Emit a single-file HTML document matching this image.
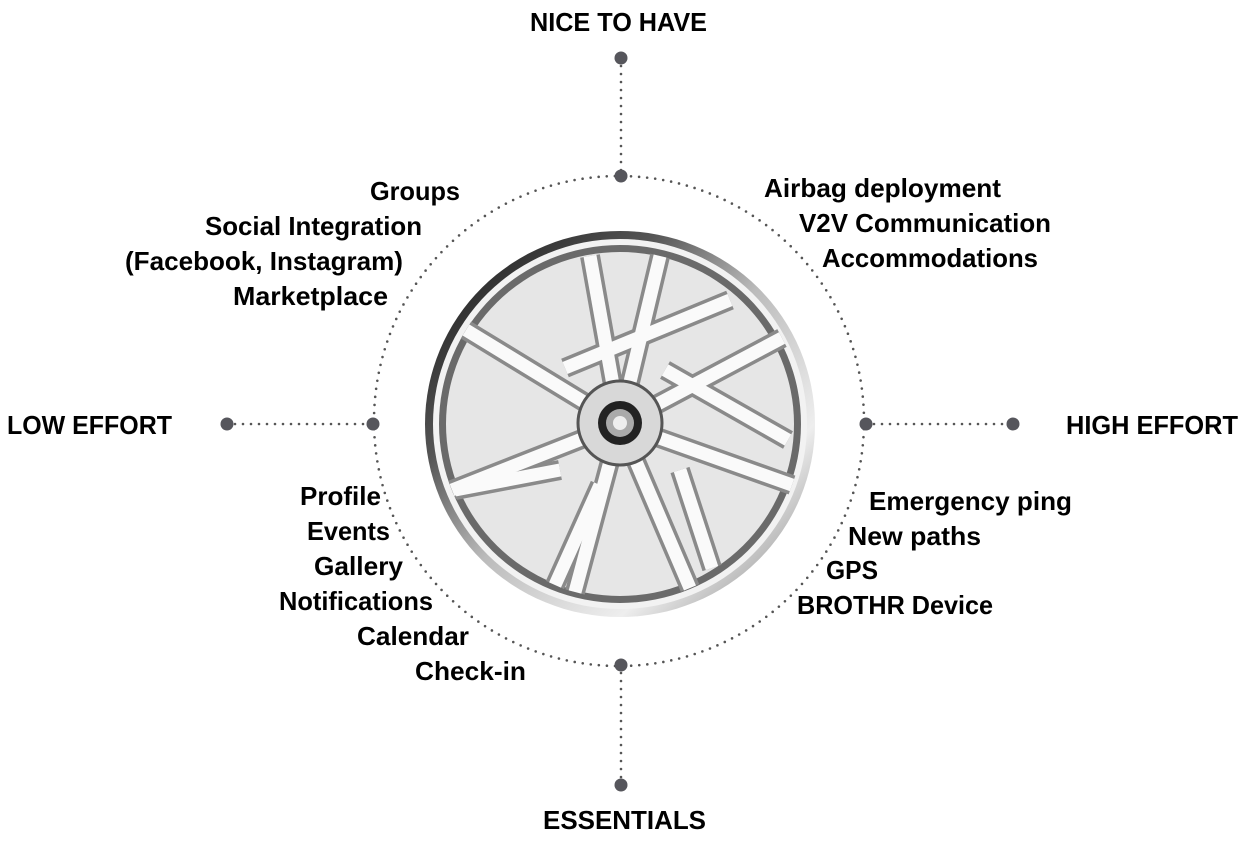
<!DOCTYPE html>
<html><head><meta charset="utf-8"><style>
html,body{margin:0;padding:0;background:#fff;width:1243px;height:843px;overflow:hidden}
text{font-family:"Liberation Sans",sans-serif;font-weight:bold;font-size:26px;fill:#000}
</style></head><body>
<svg width="1243" height="843" viewBox="0 0 1243 843" xmlns="http://www.w3.org/2000/svg">
<defs>
<linearGradient id="rim" x1="0" y1="0" x2="1" y2="1">
<stop offset="0" stop-color="#111"/><stop offset="0.3" stop-color="#555"/><stop offset="0.5" stop-color="#bbb"/><stop offset="0.75" stop-color="#eee"/><stop offset="1" stop-color="#777"/>
</linearGradient>
</defs>
<circle cx="619" cy="421" r="245" fill="none" stroke="#555" stroke-width="2.6" stroke-linecap="round" stroke-dasharray="0 8.1"/>
<g stroke="#555" stroke-width="2.6" stroke-linecap="round" stroke-dasharray="0 8">
<line x1="621" y1="58" x2="621" y2="176"/>
<line x1="621" y1="665" x2="621" y2="785"/>
<line x1="227" y1="424" x2="373" y2="424"/>
<line x1="866" y1="424" x2="1013" y2="424"/>
</g>
<g fill="#56565c">
<circle cx="621" cy="58" r="6.5"/><circle cx="621" cy="176" r="6.5"/>
<circle cx="621" cy="665" r="6.5"/><circle cx="621" cy="785" r="6.5"/>
<circle cx="227" cy="424" r="6.5"/><circle cx="373" cy="424" r="6.5"/>
<circle cx="866" cy="424" r="6.5"/><circle cx="1013" cy="424" r="6.5"/>
</g>
<ellipse cx="620" cy="424" rx="195" ry="193" fill="url(#rim)"/>
<ellipse cx="620" cy="424" rx="187" ry="185" fill="#f2f2f2"/>
<ellipse cx="620" cy="424" rx="181" ry="179" fill="#6a6a6a"/>
<ellipse cx="620" cy="424" rx="174" ry="172" fill="#e6e6e6"/>
<g stroke-linecap="butt">
<g stroke="#8a8a8a" stroke-width="20">
<line x1="620" y1="424" x2="590" y2="256"/><line x1="620" y1="424" x2="660" y2="256"/>
<line x1="620" y1="424" x2="466" y2="330"/><line x1="620" y1="424" x2="782" y2="338"/>
<line x1="620" y1="424" x2="452" y2="490"/><line x1="620" y1="424" x2="792" y2="485"/>
<line x1="620" y1="424" x2="575" y2="592"/><line x1="620" y1="424" x2="690" y2="588"/>
<line x1="565" y1="368" x2="730" y2="300"/><line x1="665" y1="370" x2="788" y2="440"/>
<line x1="680" y1="470" x2="712" y2="568"/><line x1="560" y1="470" x2="455" y2="490"/>
<line x1="600" y1="485" x2="555" y2="585"/>
</g>
<g stroke="#fafafa" stroke-width="13">
<line x1="620" y1="424" x2="590" y2="256"/><line x1="620" y1="424" x2="660" y2="256"/>
<line x1="620" y1="424" x2="466" y2="330"/><line x1="620" y1="424" x2="782" y2="338"/>
<line x1="620" y1="424" x2="452" y2="490"/><line x1="620" y1="424" x2="792" y2="485"/>
<line x1="620" y1="424" x2="575" y2="592"/><line x1="620" y1="424" x2="690" y2="588"/>
<line x1="565" y1="368" x2="730" y2="300"/><line x1="665" y1="370" x2="788" y2="440"/>
<line x1="680" y1="470" x2="712" y2="568"/><line x1="560" y1="470" x2="455" y2="490"/>
<line x1="600" y1="485" x2="555" y2="585"/>
</g>
</g>
<circle cx="620" cy="423" r="42" fill="#d8d8d8" stroke="#555" stroke-width="3"/>
<circle cx="620" cy="423" r="22" fill="#222"/>
<circle cx="620" cy="423" r="14" fill="#aaa"/>
<circle cx="620" cy="423" r="7" fill="#eee"/>
<g lengthAdjust="spacingAndGlyphs">
<text x="530" y="31" textLength="177" lengthAdjust="spacingAndGlyphs">NICE TO HAVE</text>
<text x="543" y="829" textLength="163" lengthAdjust="spacingAndGlyphs">ESSENTIALS</text>
<text x="7" y="434" textLength="165" lengthAdjust="spacingAndGlyphs">LOW EFFORT</text>
<text x="1066" y="434" textLength="172" lengthAdjust="spacingAndGlyphs">HIGH EFFORT</text>
<text x="370" y="200" textLength="90" lengthAdjust="spacingAndGlyphs">Groups</text>
<text x="205" y="235" textLength="217" lengthAdjust="spacingAndGlyphs">Social Integration</text>
<text x="125" y="270" textLength="278" lengthAdjust="spacingAndGlyphs">(Facebook, Instagram)</text>
<text x="233" y="305" textLength="155" lengthAdjust="spacingAndGlyphs">Marketplace</text>
<text x="764" y="197" textLength="237" lengthAdjust="spacingAndGlyphs">Airbag deployment</text>
<text x="799" y="232" textLength="252" lengthAdjust="spacingAndGlyphs">V2V Communication</text>
<text x="822" y="267" textLength="216" lengthAdjust="spacingAndGlyphs">Accommodations</text>
<text x="300" y="505" textLength="81" lengthAdjust="spacingAndGlyphs">Profile</text>
<text x="307" y="540" textLength="83" lengthAdjust="spacingAndGlyphs">Events</text>
<text x="314" y="575" textLength="89" lengthAdjust="spacingAndGlyphs">Gallery</text>
<text x="279" y="610" textLength="154" lengthAdjust="spacingAndGlyphs">Notifications</text>
<text x="357" y="645" textLength="112" lengthAdjust="spacingAndGlyphs">Calendar</text>
<text x="415" y="680" textLength="111" lengthAdjust="spacingAndGlyphs">Check-in</text>
<text x="869" y="510" textLength="203" lengthAdjust="spacingAndGlyphs">Emergency ping</text>
<text x="848" y="545" textLength="133" lengthAdjust="spacingAndGlyphs">New paths</text>
<text x="826" y="579" textLength="52" lengthAdjust="spacingAndGlyphs">GPS</text>
<text x="797" y="614" textLength="196" lengthAdjust="spacingAndGlyphs">BROTHR Device</text>
</g>
</svg>
</body></html>
